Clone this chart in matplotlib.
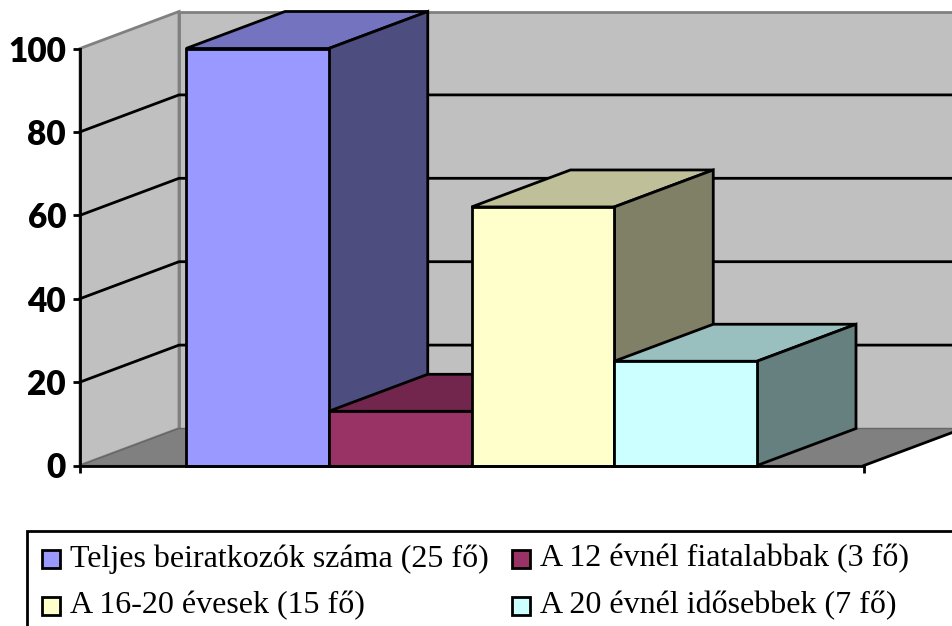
import matplotlib.pyplot as plt
from matplotlib.patches import Rectangle
from matplotlib.colors import to_rgb

# --- Data ---
labels = ['Teljes beiratkozók száma (25 fő)', 'A 12 évnél fiatalabbak (3 fő)',
          'A 16-20 évesek (15 fő)', 'A 20 évnél idősebbek (7 fő)']
values = [100, 13, 62, 25]
colors = ['#9999FF', '#993366', '#FFFFCC', '#CCFFFF']
y_ticks = [0, 20, 40, 60, 80, 100]

# --- 3D look: depth offset of the chart box, in data units ---
W, H = 952, 626
bar_px = 142.75      # px per category
val_px = 4.17        # px per value unit
x_start = -106 / bar_px
x_end = (864 - 186) / bar_px
dx = 99 / bar_px
dy = 37 / val_px
lw = 2.0

fig = plt.figure(figsize=(W / 100, H / 100), dpi=100)
ax = fig.add_axes([0, 0, 1, 1])
ax.set_xlim(-186 / bar_px, (W - 186) / bar_px)
ax.set_ylim(-(H - 465.5) / val_px, 465.5 / val_px)
ax.patch.set_visible(False)

# walls and floor
ymax = max(y_ticks)
ax.fill([x_start + dx, x_end + dx, x_end + dx, x_start + dx], [dy, dy, ymax + dy, ymax + dy],
        fc='#C0C0C0', ec='#808080', lw=lw, zorder=0.2)
ax.fill([x_start, x_start + dx, x_start + dx, x_start], [0, dy, ymax + dy, ymax],
        fc='#C0C0C0', ec='#808080', lw=lw, zorder=0.3)
ax.fill([x_start, x_end, x_end + dx, x_start + dx], [0, 0, dy, dy],
        fc='#808080', ec='#666666', lw=1, zorder=0.4)
ax.plot([x_end, x_end + dx], [0, dy], color='black', lw=lw, zorder=0.5)

# gridlines
for t in y_ticks[1:-1]:
    ax.plot([x_start, x_start + dx, x_end + dx], [t, t + dy, t + dy], color='black', lw=lw, zorder=0.6)


def shade(c, f):
    return tuple(v * f for v in to_rgb(c))


# bars, left to right so the later ones cover the earlier sides
for i, (v, c) in enumerate(zip(values, colors)):
    z = 1 + i
    ax.fill([i, i + 1, i + 1 + dx, i + dx], [v, v, v + dy, v + dy], fc=shade(c, 0.75), ec='black', lw=lw,
            joinstyle='miter', zorder=z)
    ax.fill([i + 1, i + 1 + dx, i + 1 + dx, i + 1], [0, dy, v + dy, v], fc=shade(c, 0.5), ec='black', lw=lw,
            joinstyle='miter', zorder=z)
    ax.fill([i, i + 1, i + 1, i], [0, 0, v, v], fc=c, ec='black', lw=lw, joinstyle='miter', zorder=z)

# axes
for s in ['top', 'right']:
    ax.spines[s].set_visible(False)
ax.spines['left'].set_position(('data', x_start))
ax.spines['left'].set_bounds(0, ymax)
ax.spines['bottom'].set_position(('data', 0))
ax.spines['bottom'].set_bounds(x_start, x_end)
ax.spines['left'].set_linewidth(lw)
ax.spines['bottom'].set_linewidth(lw)
ax.spines['left'].set_zorder(10)
ax.spines['bottom'].set_zorder(10)
ax.set_yticks(y_ticks)
ax.set_xticks([x_start, x_end])
ax.set_xticklabels([])
ax.tick_params(length=5, width=lw, pad=5)
for t in ax.get_yticklabels():
    t.set_fontfamily('Lato')
    t.set_fontweight('heavy')
    t.set_fontsize(24)

# --- Legend (runs off the right and bottom of the picture) ---
lg = fig.add_axes([0, 0, 1, 1])
lg.set_xlim(0, W)
lg.set_ylim(H, 0)
lg.axis('off')
lg.add_patch(Rectangle((27, 531), W, H, fc='white', ec='black', lw=lw, clip_on=False))
legend_x = [42, 512, 42, 512]
legend_y = [559, 559, 606, 606]
for name, c, lx, ly in zip(labels, colors, legend_x, legend_y):
    lg.add_patch(Rectangle((lx, ly - 9), 18, 18, fc=c, ec='black', lw=lw))
    lg.text(lx + 28, ly, name, family='Liberation Serif', fontsize=23, va='center', ha='left', color='black')

plt.savefig('out.png', dpi=100)
